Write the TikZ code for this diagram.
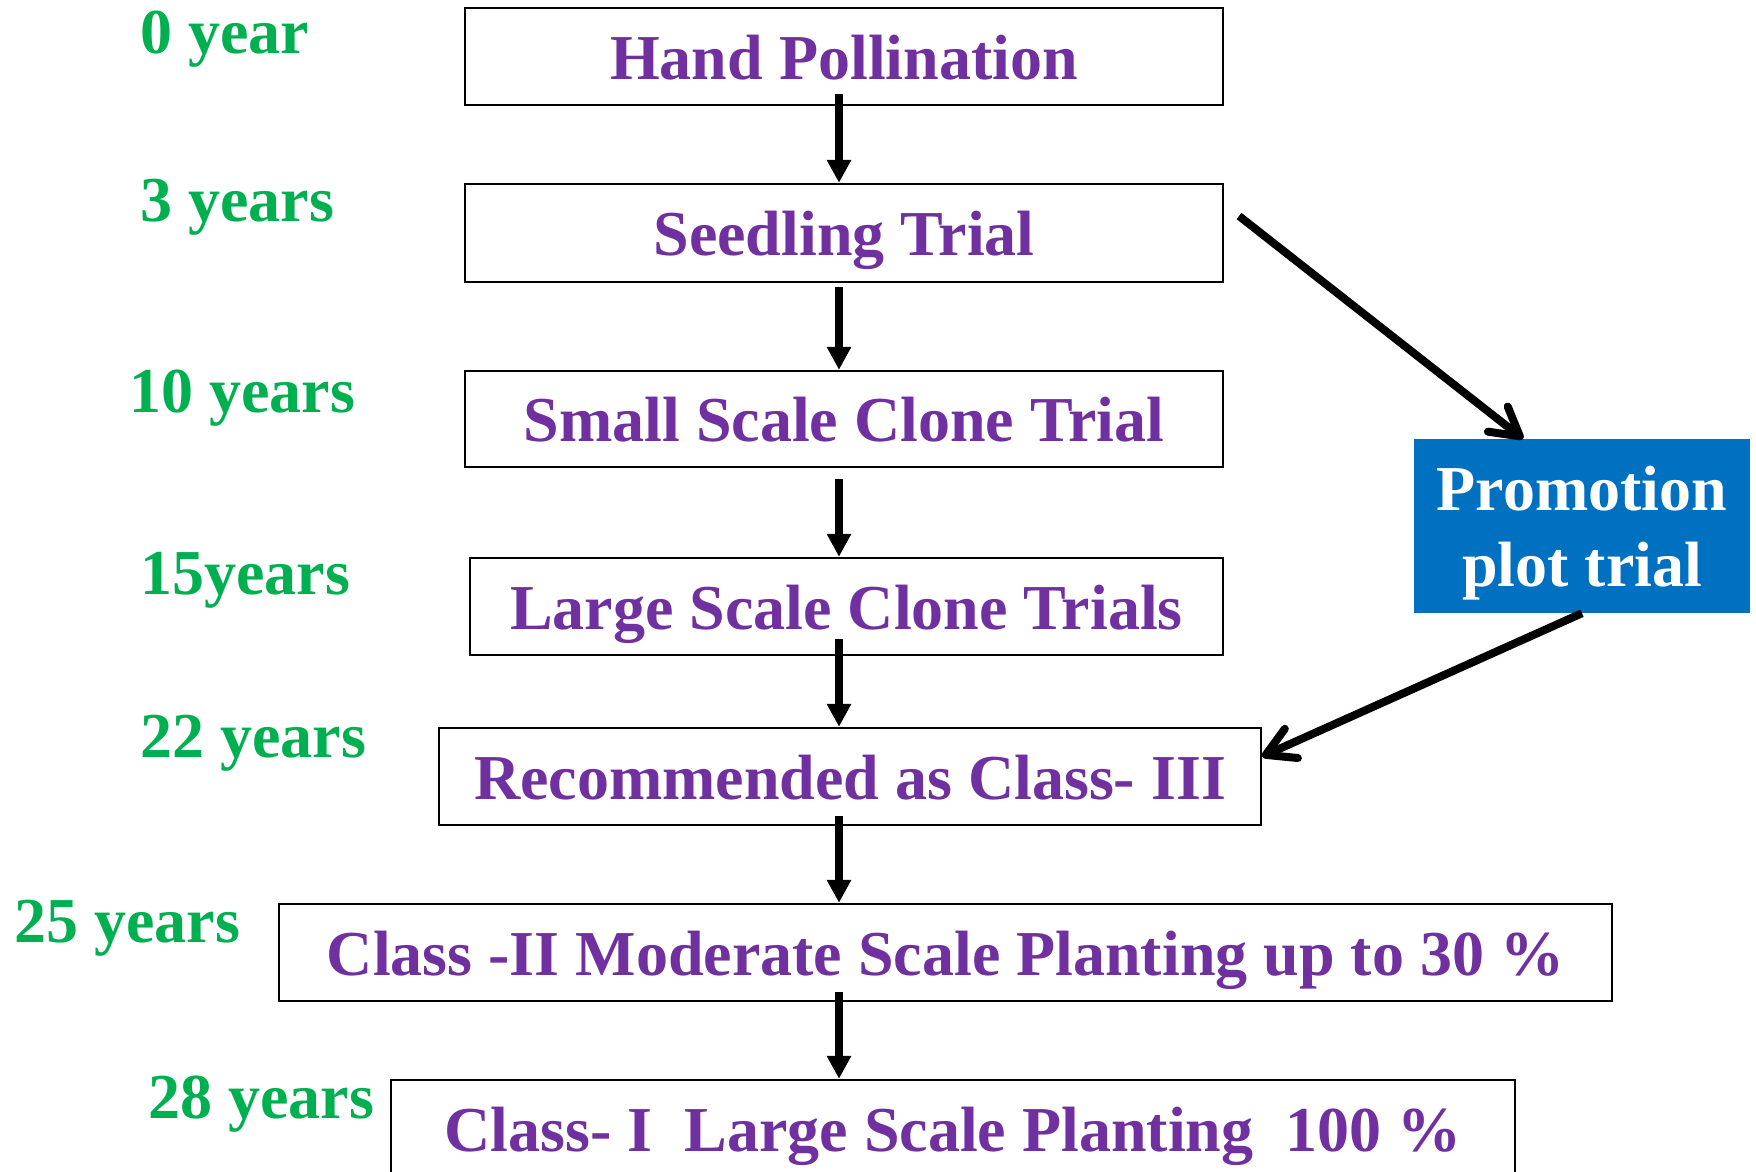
\documentclass[tikz,border=0pt]{standalone}
\usepackage{fontspec}
\setmainfont{Liberation Serif}
\usetikzlibrary{arrows.meta,calc}
\definecolor{pur}{HTML}{7030A0}
\definecolor{grn}{HTML}{00B050}
\definecolor{blu}{HTML}{0070C0}
\begin{document}
\begin{tikzpicture}[x=1pt,y=-1pt,
  every node/.style={font=\bfseries\fontsize{64}{76}\selectfont, inner sep=0pt},
  stagebox/.style={draw=black, line width=2.3pt, rectangle, minimum height=97pt, text=pur, text height=47pt, text depth=2pt},
  yearlbl/.style={text=grn, anchor=base west},
  varrow/.style={line width=7.5pt, -{Triangle[length=23pt,width=23pt]}},
  darrow/.style={line width=8pt, -{Straight Barb[length=28pt,width=32pt,round]}}]
\useasboundingbox (0,0) rectangle (1756,1171);
\clip (0,0) rectangle (1756,1171);
\fill[white] (0,0) rectangle (1756,1171);

% stage boxes
\node[stagebox, minimum width=758pt] (hand) at (844,56.5) {Hand Pollination};
\node[stagebox, minimum width=758pt, minimum height=98pt] (seed) at (844,233) {Seedling Trial};
\node[stagebox, minimum width=758pt, minimum height=96pt] (small) at (844,419) {Small Scale Clone Trial};
\node[stagebox, minimum width=753pt] (large) at (846.5,606.5) {Large Scale Clone Trials};
\node[stagebox, minimum width=822pt] (rec) at (850,776.5) {Recommended as Class- III};
\node[stagebox, minimum width=1333pt] (c2) at (945.5,952.5) {Class -II Moderate Scale Planting up to 30 \%};
\node[stagebox, minimum width=1124pt] (c1) at (953,1128.5) {Class- I\ \ Large Scale Planting\ \ 100 \%};

% promotion box
\node[fill=blu, rectangle, minimum width=336pt, minimum height=174pt] (promo) at (1582,526) {};
\node[text=white, align=center] (promotxt) at (1582,533) {Promotion\\plot trial};

% year labels
\node[yearlbl] (y0) at (140,53) {0 year};
\node[yearlbl] (y3) at (140,221) {3 years};
\node[yearlbl] (y10) at (129,412) {10 years};
\node[yearlbl] (y15) at (140,594) {15years};
\node[yearlbl] (y22) at (140,757) {22 years};
\node[yearlbl] (y25) at (14,942) {25 years};
\node[yearlbl] (y28) at (148,1118) {28 years};

% vertical arrows
\coordinate (ax) at (839,0);
\draw[varrow] ($(hand.south -| ax)+(0,-12)$) -- (seed.north -| ax);
\draw[varrow] ($(seed.south -| ax)+(0,4)$) -- (small.north -| ax);
\draw[varrow] ($(small.south -| ax)+(0,11)$) -- (large.north -| ax);
\draw[varrow] ($(large.south -| ax)+(0,-17)$) -- (rec.north -| ax);
\draw[varrow] ($(rec.south -| ax)+(0,-10)$) -- (c2.north -| ax);
\draw[varrow] ($(c2.south -| ax)+(0,-10)$) -- (c1.north -| ax);

% diagonal arrows
\coordinate (d1s) at (1239,216);
\draw[darrow] (d1s) -- ([xshift=-59pt]promo.north);
\draw[darrow] (promo.south) -- ([yshift=20pt]rec.east);
\end{tikzpicture}
\end{document}
